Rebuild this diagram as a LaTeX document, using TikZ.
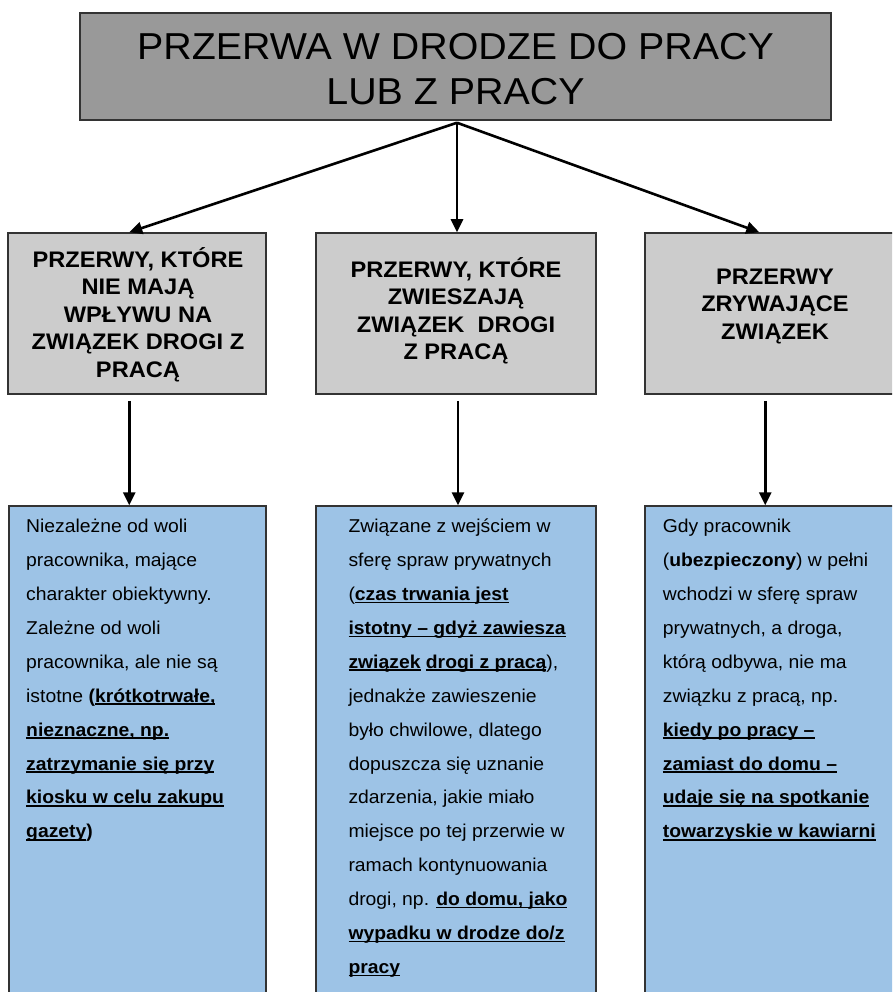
\documentclass[tikz,border=0pt]{standalone}
\usepackage{fontspec}
\setmainfont{Liberation Sans}
\newfontfamily\titlefont[FakeStretch=1.05]{Liberation Sans}
\newfontfamily\headfont[FakeStretch=1.05]{Liberation Sans}
\newfontfamily\bodyfont[FakeStretch=1.04]{Liberation Sans}
\usetikzlibrary{arrows.meta}
\definecolor{topgray}{HTML}{999999}
\definecolor{midgray}{HTML}{CCCCCC}
\definecolor{lightblue}{HTML}{9DC3E6}
\definecolor{edgegray}{HTML}{333333}
\newsavebox{\ulbox}
\newcommand{\myul}[1]{\leavevmode\sbox{\ulbox}{#1}\rlap{\rule[-2.8pt]{\wd\ulbox}{1.7pt}}\usebox{\ulbox}}
\newcommand{\bu}[1]{\textbf{\myul{#1}}}
\tikzset{
  boxbase/.style={draw=edgegray, line width=1.5pt, inner sep=0pt, rectangle},
  topbox/.style={boxbase, fill=topgray, minimum width=751pt, minimum height=107pt},
  headbox/.style={boxbase, fill=midgray, minimum height=161pt},
  bodybox/.style={boxbase, fill=lightblue, minimum height=494pt},
  headtext/.style={anchor=base, inner sep=0pt, font=\headfont\bfseries\fontsize{22.5}{27.5}\selectfont},
  bodytext/.style={anchor=base west, inner sep=0pt, font=\bodyfont\fontsize{18.6}{33.9}\selectfont},
  arr/.style={line width=2.6pt, -{Triangle[length=13pt,width=12pt]}}
}
\begin{document}
\begin{tikzpicture}[x=1pt,y=-1pt]
\clip (0,0) rectangle (892,992);
\fill[white] (0,0) rectangle (892,992);
% top
\node[topbox] (top) at (455.5,66.5) {};
\node[anchor=base, inner sep=0pt, font=\titlefont\fontsize{37.5}{45}\selectfont] (title) at (455.5,59.5)
  {\parbox[t]{740pt}{\centering PRZERWA W DRODZE DO PRACY\\LUB Z PRACY}};
% header boxes
\node[headbox, minimum width=258pt] (h1) at (137,313.5) {};
\node[headbox, minimum width=280pt] (h2) at (456,313.5) {};
\node[headbox, minimum width=255pt] (h3) at (772.5,313.5) {};
\node[headtext] (ht1) at (138,267)
  {\parbox[t]{256pt}{\centering PRZERWY, KTÓRE\\NIE MAJĄ\\WPŁYWU NA\\ZWIĄZEK DROGI Z\\PRACĄ}};
\node[headtext] (ht2) at (456,277)
  {\parbox[t]{276pt}{\centering PRZERWY, KTÓRE\\ZWIESZAJĄ\\ZWIĄZEK\ \ DROGI\\Z PRACĄ}};
\node[headtext] (ht3) at (775,284.4)
  {\parbox[t]{240pt}{\centering PRZERWY\\ZRYWAJĄCE\\ZWIĄZEK}};
% body boxes
\node[bodybox, minimum width=257pt] (b1) at (137.5,753) {};
\node[bodybox, minimum width=280pt] (b2) at (456,753) {};
\node[bodybox, minimum width=255pt] (b3) at (772.5,753) {};
\node[bodytext] (bt1) at (26,532.7)
  {\parbox[t]{238pt}{\raggedright
  Niezależne od woli\\
  pracownika, mające\\
  charakter obiektywny.\\
  Zależne od woli\\
  pracownika, ale nie są\\
  istotne \textbf{(\myul{krótkotrwałe,}}\\
  \bu{nieznaczne, np.}\\
  \bu{zatrzymanie się przy}\\
  \bu{kiosku w celu zakupu}\\
  \textbf{\myul{gazety})}}};
\node[bodytext] (bt2) at (348.3,532.7)
  {\parbox[t]{245pt}{\raggedright
  Związane z wejściem w\\
  sferę spraw prywatnych\\
  (\bu{czas trwania jest}\\
  \bu{istotny – gdyż zawiesza}\\
  \bu{związek} \bu{drogi z pracą}),\\
  jednakże zawieszenie\\
  było chwilowe, dlatego\\
  dopuszcza się uznanie\\
  zdarzenia, jakie miało\\
  miejsce po tej przerwie w\\
  ramach kontynuowania\\
  drogi, np. \bu{do domu, jako}\\
  \bu{wypadku w drodze do/z}\\
  \bu{pracy}}};
\node[bodytext] (bt3) at (662.7,532.7)
  {\parbox[t]{228pt}{\raggedright
  Gdy pracownik\\
  (\textbf{ubezpieczony}) w pełni\\
  wchodzi w sferę spraw\\
  prywatnych, a droga,\\
  którą odbywa, nie ma\\
  związku z pracą, np.\\
  \bu{kiedy po pracy –}\\
  \bu{zamiast do domu –}\\
  \bu{udaje się na spotkanie}\\
  \bu{towarzyskie w kawiarni}}};
% arrows
\draw[arr] ([xshift=1.5pt,yshift=-2pt]top.south) -- ([xshift=122pt]h1.north west);
\draw[arr] ([xshift=1.5pt,yshift=-2pt]top.south) -- ([xshift=1pt]h2.north);
\draw[arr] ([xshift=1.5pt,yshift=-2pt]top.south) -- ([xshift=115pt]h3.north west);
\draw[arr] ([xshift=122pt,yshift=-6pt]h1.south west) -- ([xshift=121pt]b1.north west);
\draw[arr] ([xshift=2pt,yshift=-6pt]h2.south) -- ([xshift=2pt]b2.north);
\draw[arr] ([xshift=121pt,yshift=-6pt]h3.south west) -- ([xshift=121pt]b3.north west);
\end{tikzpicture}
\end{document}
